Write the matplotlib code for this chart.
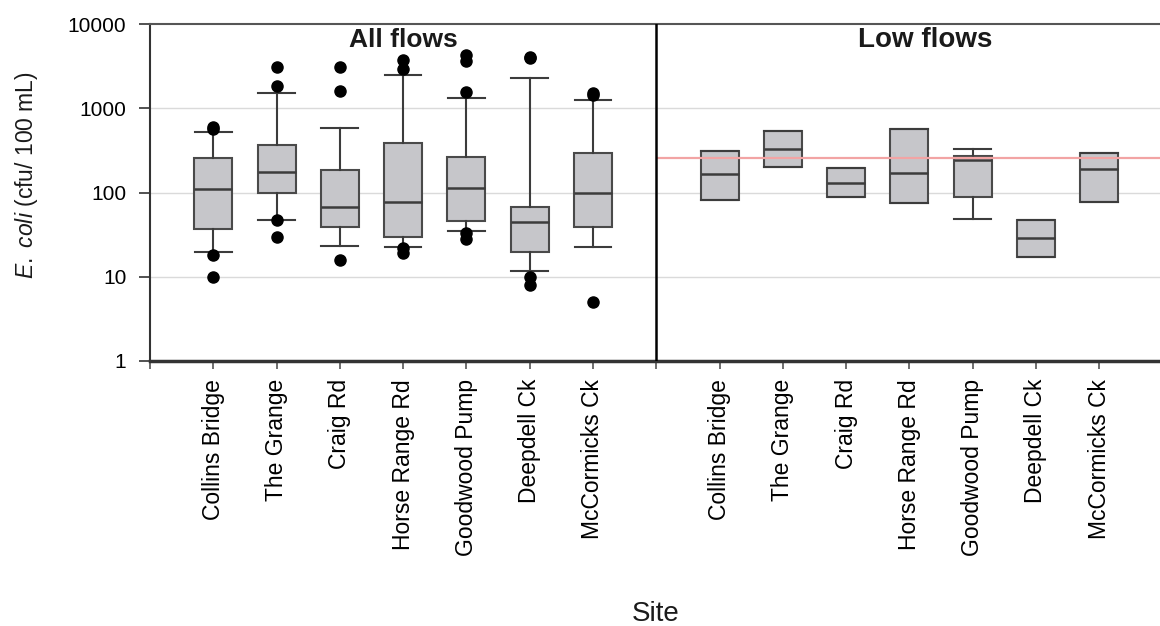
import numpy as np
import matplotlib as mpl
import matplotlib.pyplot as plt
from matplotlib.ticker import FixedLocator, NullLocator

# fonts
mpl.rcParams.update({
    "font.family": ["Liberation Sans", "DejaVu Sans"],
    "mathtext.fontset": "custom",
    "mathtext.rm": "Liberation Sans",
    "mathtext.it": "Liberation Sans:italic",
})

# data
sites = ["Collins Bridge", "The Grange", "Craig Rd", "Horse Range Rd",
         "Goodwood Pump", "Deepdell Ck", "McCormicks Ck"]

# all flows
all_q1 = [37, 100, 39, 30, 46, 19.5, 39]
all_med = [110, 176, 67, 78, 114, 45, 100]
all_q3 = [255, 364, 185, 392, 267, 68, 293]
all_whislo = [19.5, 47.7, 23.4, 22.8, 35.3, 11.8, 22.8]
all_whishi = [529, 1537, 580, 2512, 1328, 2296, 1259]
all_fliers = [
    [600, 560, 18, 10],
    [3050, 1850, 47, 30],
    [3130, 1620, 16],
    [3750, 2900, 22, 19],
    [4300, 3600, 1540, 33, 28],
    [4100, 3900, 10, 8],
    [1520, 1450, 5],
]

# low flows (only Goodwood Pump has whiskers)
low_q1 = [82, 203, 88, 75, 89, 17, 78]
low_med = [166, 326, 129, 169, 240, 28.6, 189]
low_q3 = [315, 539, 194, 564, 272, 47, 298]
low_whislo = [82, 203, 88, 75, 48.6, 17, 78]
low_whishi = [315, 539, 194, 564, 330, 47, 298]

guideline = 260  # cfu/100 mL

y_ticks = [1, 10, 100, 1000, 10000]


def make_stats(q1, med, q3, lo, hi, fliers=None):
    stats = []
    for i in range(len(q1)):
        stats.append({
            "q1": q1[i], "med": med[i], "q3": q3[i],
            "whislo": lo[i], "whishi": hi[i],
            "fliers": fliers[i] if fliers is not None else [],
        })
    return stats


fig = plt.figure(figsize=(11.6, 6.26), dpi=100)
ax = fig.add_axes([150 / 1160, 1 - 361 / 626, 1010 / 1160, 337 / 626])

n = len(sites)
pos_all = np.arange(1, n + 1)
pos_low = np.arange(n + 2, 2 * n + 2)
xmax = 15.96

box_style = dict(
    widths=0.6,
    capwidths=0.58,
    patch_artist=True,
    boxprops=dict(facecolor="#c6c6ca", edgecolor="#4a4a4a", linewidth=1.5),
    medianprops=dict(color="#3c3c3c", linewidth=1.8),
    whiskerprops=dict(color="#3c3c3c", linewidth=1.5),
    capprops=dict(color="#3c3c3c", linewidth=1.5),
    flierprops=dict(marker="o", markerfacecolor="black", markeredgecolor="black",
                    markersize=8, linestyle="none"),
)

# gridlines
for v in [10, 100, 1000]:
    ax.axhline(v, color="#dadada", linewidth=1, zorder=0)

# guideline in the low flows panel
ax.hlines(guideline, n + 1, xmax, color="#f2a4a4", linewidth=1.6, zorder=3)

ax.bxp(make_stats(all_q1, all_med, all_q3, all_whislo, all_whishi, all_fliers),
       positions=pos_all, **box_style)
ax.bxp(make_stats(low_q1, low_med, low_q3, low_whislo, low_whishi),
       positions=pos_low, **box_style)

# panel divider
ax.axvline(n + 1, color="black", linewidth=1.8, zorder=4)

ax.set_yscale("log")
ax.set_ylim(1, 10000)
ax.set_xlim(0, xmax)
ax.yaxis.set_major_locator(FixedLocator(y_ticks))
ax.yaxis.set_minor_locator(NullLocator())
ax.set_yticklabels([str(v) for v in y_ticks])

ax.xaxis.set_major_locator(FixedLocator(list(pos_all) + list(pos_low)))
ax.set_xticklabels(sites + sites, rotation=90)
ax.xaxis.set_minor_locator(FixedLocator([0, n + 1]))

ax.tick_params(axis="y", labelsize=15, length=8, width=1.2, pad=9, color="#333333")
ax.tick_params(axis="x", which="major", labelsize=16.5, length=6, width=1.2, pad=7,
               color="#555555")
ax.tick_params(axis="x", which="minor", length=6, width=1.2, color="#555555")

ax.spines["right"].set_visible(False)
ax.spines["top"].set_color("#555555")
ax.spines["top"].set_linewidth(1.5)
ax.spines["left"].set_color("#333333")
ax.spines["left"].set_linewidth(1.5)
ax.spines["bottom"].set_color("#333333")
ax.spines["bottom"].set_linewidth(2.5)

# panel titles
ax.text(4.0, 0.953, "All flows", transform=ax.get_xaxis_transform(),
        ha="center", va="center", fontsize=19, fontweight="bold", color="#1a1a1a")
ax.text(12.25, 0.953, "Low flows", transform=ax.get_xaxis_transform(),
        ha="center", va="center", fontsize=20, fontweight="bold", color="#1a1a1a")

fig.text(27 / 1160, 1 - 175 / 626, r"$\mathit{E.\ coli}$ (cfu/ 100 mL)",
         rotation=90, ha="center", va="center", fontsize=16.5, color="#1a1a1a")
fig.text(656 / 1160, 1 - 614 / 626, "Site", ha="center", va="center",
         fontsize=20, color="#1a1a1a")

fig.savefig("out.png", dpi=100)
